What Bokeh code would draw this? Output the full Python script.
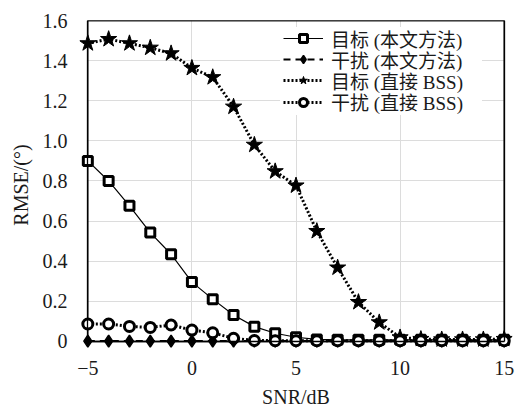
from bokeh.plotting import figure
from bokeh.models import FixedTicker, Legend, LegendItem, Range1d, LinearAxis
from bokeh.embed import file_html
from bokeh.resources import INLINE

snr = list(range(-5, 16))
target_prop = [0.90, 0.80, 0.676, 0.543, 0.435, 0.296, 0.211, 0.132, 0.074, 0.041, 0.021,
               0.010, 0.008, 0.008, 0.008, 0.008, 0.008, 0.008, 0.008, 0.008, 0.008]
interf_prop = [0.002] * 21
target_bss = [1.486, 1.507, 1.486, 1.464, 1.436, 1.363, 1.317, 1.170, 0.980, 0.848, 0.777,
              0.550, 0.368, 0.196, 0.095, 0.020, 0.012, 0.010, 0.010, 0.010, 0.012]
interf_bss = [0.087, 0.087, 0.075, 0.070, 0.082, 0.057, 0.043, 0.016, 0.005, 0.004, 0.004,
              0.004, 0.004, 0.004, 0.004, 0.004, 0.004, 0.004, 0.004, 0.004, 0.004]
labels = ["目标 (本文方法)", "干扰 (本文方法)", "目标 (直接 BSS)", "干扰 (直接 BSS)"]
x_ticks = [-5, 0, 5, 10, 15]
y_ticks = [0, 0.2, 0.4, 0.6, 0.8, 1.0, 1.2, 1.4, 1.6]

FONT = "'Liberation Serif', 'Times New Roman', 'Noto Sans CJK SC', serif"
TXT = "#1a1a1a"
XLIM = (x_ticks[0], x_ticks[-1])
YLIM = (y_ticks[0], y_ticks[-1])

# ranges padded slightly so edge markers are not clipped; the box is drawn at the axis limits
p = figure(width=517, height=410, output_backend="svg", toolbar_location=None,
           x_range=Range1d(XLIM[0] - 0.4, XLIM[1] + 0.4),
           y_range=Range1d(YLIM[0] - 0.04, YLIM[1]),
           min_border_left=79, min_border_right=5, min_border_top=20, min_border_bottom=56)
p.outline_line_color = None

for ax in (p.xaxis[0], p.yaxis[0]):
    ax.major_tick_line_color = None
    ax.minor_tick_line_color = None
    ax.axis_line_color = None
    ax.major_label_text_font = FONT
    ax.major_label_text_font_size = "20px"
    ax.major_label_text_color = TXT
    ax.axis_label_text_font = FONT
    ax.axis_label_text_font_size = "20px"
    ax.axis_label_text_font_style = "normal"
    ax.axis_label_text_color = TXT

p.xaxis.ticker = FixedTicker(ticks=x_ticks)
p.xaxis.major_label_overrides = {-5: "\u22125"}
p.yaxis.ticker = FixedTicker(ticks=y_ticks)
p.yaxis.major_label_overrides = {0: "0", 1.0: "1.0"}
p.xaxis.axis_label = "SNR/dB"
p.yaxis.axis_label = "RMSE/(°)"
p.xaxis.major_label_standoff = 5
p.yaxis.major_label_standoff = 6
p.xaxis.axis_label_standoff = 8
p.yaxis.axis_label_standoff = 8


# frame box: unlabeled axes pinned at the axis limits
def border_axis(loc, bounds, ticks, side):
    a = LinearAxis(fixed_location=loc, bounds=bounds, ticker=FixedTicker(ticks=ticks),
                   major_tick_line_color=None, minor_tick_line_color=None,
                   major_label_text_font_size="1px", major_label_text_alpha=0,
                   major_label_standoff=0, axis_line_color="black", axis_line_width=1.3)
    p.add_layout(a, side)


border_axis(XLIM[0], YLIM, y_ticks, "left")
border_axis(XLIM[1], YLIM, y_ticks, "right")
border_axis(YLIM[1], XLIM, x_ticks, "above")
border_axis(YLIM[0], XLIM, x_ticks, "below")

# grid
p.xgrid.ticker = FixedTicker(ticks=x_ticks[1:-1])
p.ygrid.ticker = FixedTicker(ticks=y_ticks[1:-1])
p.grid.grid_line_color = "#dcdcdc"
p.grid.grid_line_width = 1
if "cross_bounds" in p.xgrid[0].properties():
    p.xgrid.cross_bounds = YLIM
    p.ygrid.cross_bounds = XLIM

box_x = [XLIM[0], XLIM[1], XLIM[1], XLIM[0], XLIM[0]]
box_y = [YLIM[0], YLIM[0], YLIM[1], YLIM[1], YLIM[0]]
p.line(box_x, box_y, line_color="black", line_width=1.3)

# series
r1l = p.line(snr, target_prop, line_color="black", line_width=1.2)
r1m = p.scatter(snr, target_prop, marker="square", size=9, line_color="black",
                line_width=3, fill_color="white")
r2l = p.line(snr, interf_prop, line_color="black", line_width=2, line_dash="7 5")
r2m = p.scatter(snr, interf_prop, marker="diamond", size=12, line_color="black",
                line_width=1.5, fill_color="black")
r3l = p.line(snr, target_bss, line_color="black", line_width=3, line_dash="2 2")
r3m = p.scatter(snr, target_bss, marker="star", size=17, line_color="black",
                line_width=1, fill_color="black")
r4l = p.line(snr, interf_bss, line_color="black", line_width=3, line_dash="2 2")
r4m = p.scatter(snr, interf_bss, marker="circle", size=10, line_color="black",
                line_width=3, fill_color="white")

# legend: a blank white panel, then one single-row legend per series on top of it
blank = p.scatter([], [], marker="square", fill_alpha=0, line_alpha=0)
bg = Legend(items=[LegendItem(label=" ", renderers=[blank])], location=(201, 234),
            background_fill_color="white", background_fill_alpha=1, border_line_color=None,
            glyph_width=40, glyph_height=88, label_height=88, label_width=154,
            label_standoff=8, padding=0, margin=0, label_text_font_size="10px")
p.add_layout(bg, "center")

series_renderers = [[r1l, r1m], [r2l, r2m], [r3l, r3m], [r4l, r4m]]
row_h = 30
for i, (lab, rends) in enumerate(zip(labels, series_renderers)):
    center_from_top = 23 + 21.2 * i          # screen px below the frame top
    vy = 334 - center_from_top - row_h / 2   # frame height is 334 px
    lg = Legend(items=[LegendItem(label=lab, renderers=rends)], location=(204, vy),
                background_fill_alpha=0, border_line_color=None,
                glyph_width=40, glyph_height=20, label_height=row_h,
                label_standoff=8, padding=0, margin=0,
                label_text_font=FONT, label_text_font_size="19px",
                label_text_color=TXT)
    p.add_layout(lg, "center")

open("out.html", "w").write(file_html(p, INLINE))
